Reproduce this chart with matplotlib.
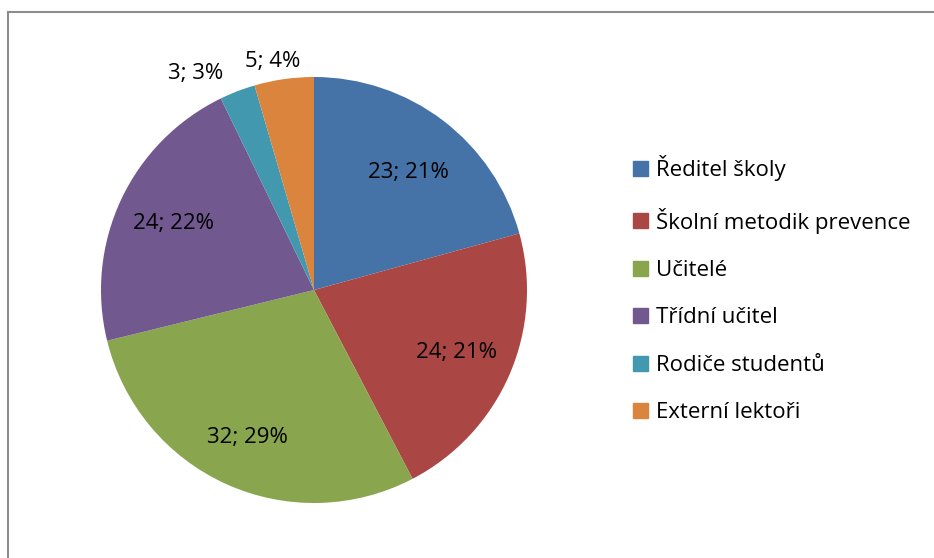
import numpy as np
import matplotlib
matplotlib.use('Agg')
import matplotlib.pyplot as plt
from matplotlib.lines import Line2D

# data
categories = ['Ředitel školy', 'Školní metodik prevence', 'Učitelé',
              'Třídní učitel', 'Rodiče studentů', 'Externí lektoři']
values = [23, 24, 32, 24, 3, 5]
pct_labels = ['21%', '21%', '29%', '22%', '3%', '4%']
colors = ['#4572A7', '#AA4643', '#89A54E', '#71588F', '#4198AF', '#DB843D']

plt.rcParams['font.family'] = ['Open Sans', 'DejaVu Sans']
FS = 16

W, H = 934, 558
fig = plt.figure(figsize=(W / 100, H / 100), dpi=100)

# pie area: centre (314, 290) px, radius 213 px
cx, cy, r = 314, 290, 213
ax = fig.add_axes([(cx - r) / W, (H - cy - r) / H, 2 * r / W, 2 * r / H])
wedges, _ = ax.pie(values, colors=colors, startangle=90, counterclock=False,
                   radius=1, wedgeprops=dict(linewidth=0))
ax.set_xlim(-1, 1)
ax.set_ylim(-1, 1)
ax.set_aspect('equal')
ax.axis('off')

dist = [0.72, 0.73, 0.76, 0.73, 1.13, 1.12]
align = ['center', 'center', 'center', 'center', 'right', 'center']
nudge = [(2, -4), (0, 0), (0, 0), (0, 0), (-4, -8), (-8, -8)]
for w, v, p, d, ha, off in zip(wedges, values, pct_labels, dist, align, nudge):
    ang = np.deg2rad((w.theta1 + w.theta2) / 2)
    ax.annotate('%d; %s' % (v, p), (d * np.cos(ang), d * np.sin(ang)),
                xytext=off, textcoords='offset pixels',
                ha=ha, va='center', fontsize=FS, color='black',
                annotation_clip=False)

handles = [plt.Rectangle((0, 0), 1, 1, color=c) for c in colors]
fig.legend(handles, categories, loc='upper left',
           bbox_to_anchor=(622 / W, 1 - 144 / H), frameon=False,
           fontsize=FS, labelspacing=1.19, handlelength=0.65,
           handleheight=0.65, handletextpad=0.4, borderpad=0)

# chart border (top and left edges visible in the reference)
fig.add_artist(Line2D([8 / W, 1], [1 - 12 / H, 1 - 12 / H], color='#8c8c8c', lw=1.5))
fig.add_artist(Line2D([8 / W, 8 / W], [0, 1 - 12 / H], color='#8c8c8c', lw=1.5))

fig.savefig('out.png', dpi=100)
